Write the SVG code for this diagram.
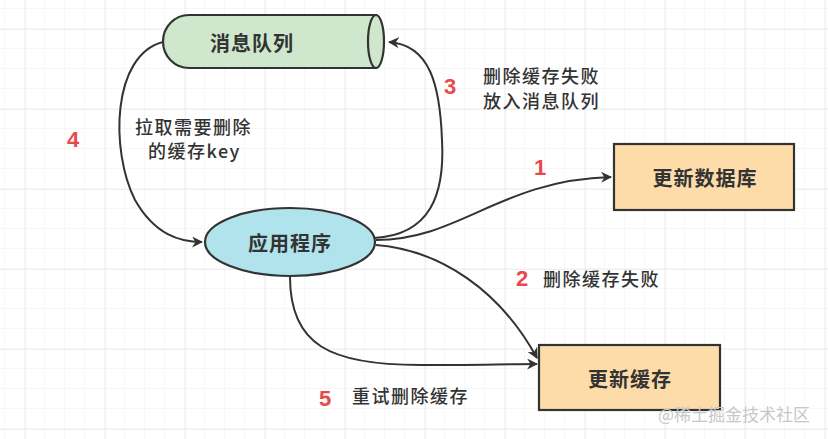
<svg xmlns="http://www.w3.org/2000/svg" width="828" height="439" viewBox="0 0 828 439">
<defs>
<pattern id="minor" x="5" y="9" width="20" height="20" patternUnits="userSpaceOnUse">
<path d="M20 0 V20 M0 20 H20" fill="none" stroke="#efefef" stroke-width="1"/>
</pattern>
<pattern id="major" x="25" y="29" width="80" height="80" patternUnits="userSpaceOnUse">
<path d="M0 0 V80 M0 0 H80" fill="none" stroke="#e2e2e2" stroke-width="1"/>
</pattern>
<marker id="arr" viewBox="0 0 10 10" refX="9" refY="5" markerWidth="5.5" markerHeight="5.5" orient="auto" markerUnits="strokeWidth">
<path d="M0 0 L10 5 L0 10 L3 5 Z" fill="#333"/>
</marker>
<style>
.node{stroke:#333;stroke-width:2.2}
.t{font-family:"Noto Sans CJK SC","Noto Sans",sans-serif;fill:#333;text-anchor:middle;dominant-baseline:central}
.nt{font-size:20px;font-weight:bold;letter-spacing:1px}
.lb{font-size:18px;font-weight:500;text-anchor:start;letter-spacing:1.5px}
.num{font-family:"Liberation Sans",Arial,sans-serif;font-size:22px;font-weight:bold;fill:#e84a4a;text-anchor:middle;dominant-baseline:central}
.edge{fill:none;stroke:#333;stroke-width:2;marker-end:url(#arr)}
</style>
</defs>
<rect width="828" height="439" fill="#fff"/>
<rect width="828" height="439" fill="url(#minor)"/>
<rect width="828" height="439" fill="url(#major)"/>

<g id="connectors">
<path class="edge" d="M376 240 C460 240, 500 180, 611 177"/>
<path class="edge" d="M376 245 C440 250, 500 290, 537 358"/>
<path class="edge" d="M374 238 C430 235, 445 195, 442 140 C440 85, 430 45, 389 42"/>
<path class="edge" d="M163 42 C112 55, 110 150, 135 200 C155 235, 180 242, 202 242"/>
<path class="edge" d="M290 277 C290 345, 330 365, 420 365 C470 365, 510 364, 537 364"/>
</g>

<g id="queue">
<path class="node" d="M376 15 L189 15 A26 26.5 0 0 0 189 68 L376 68 Z" fill="#cfe8cd"/>
<ellipse class="node" cx="376" cy="41.5" rx="8" ry="26.5" fill="#cfe8cd"/>
<text class="t nt" x="252" y="42">消息队列</text>
</g>

<g id="app">
<ellipse class="node" cx="290" cy="242" rx="85" ry="34" fill="#b0e3eb"/>
<text class="t nt" x="290" y="242">应用程序</text>
</g>

<g id="db">
<rect class="node" x="614" y="144" width="180" height="66" fill="#fedcaa"/>
<text class="t nt" x="705" y="177">更新数据库</text>
</g>

<g id="cache">
<rect class="node" x="539" y="345" width="181" height="65" fill="#fedcaa"/>
<text class="t nt" x="630" y="378">更新缓存</text>
</g>

<g id="labels">
<text class="num" x="450" y="86">3</text>
<text class="t lb" x="483" y="75">删除缓存失败</text>
<text class="t lb" x="483" y="100">放入消息队列</text>
<text class="num" x="540" y="167">1</text>
<text class="num" x="522" y="278">2</text>
<text class="t lb" x="543" y="278">删除缓存失败</text>
<text class="num" x="73" y="139">4</text>
<text class="t lb" x="135" y="126">拉取需要删除</text>
<text class="t lb" x="148" y="150">的缓存key</text>
<text class="num" x="325" y="398">5</text>
<text class="t lb" x="352" y="395">重试删除缓存</text>
<text class="t" x="734" y="413" style="font-size:17px;fill:#c8c8c8">@稀土掘金技术社区</text>
</g>
</svg>
